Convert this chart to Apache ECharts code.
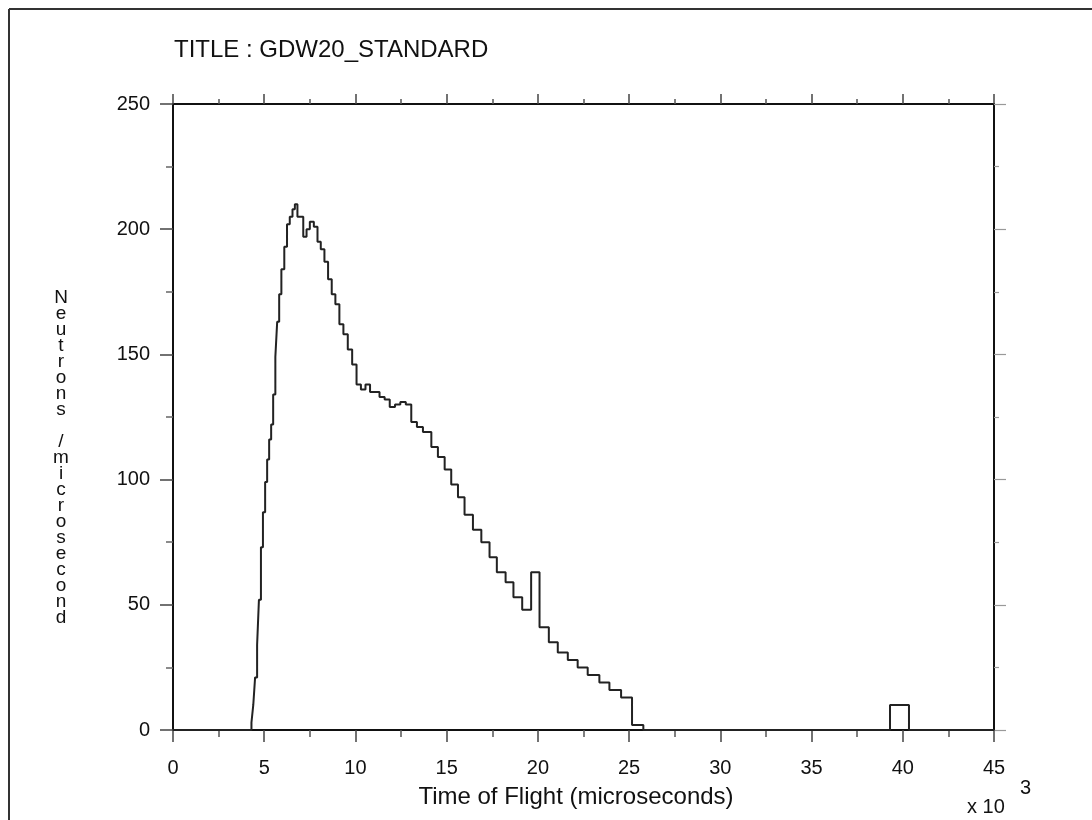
<!DOCTYPE html>
<html>
<head>
<meta charset="utf-8">
<title>GDW20_STANDARD</title>
<script src="https://cdn.jsdelivr.net/npm/echarts@6.0.0/dist/echarts.min.js"></script>
<style>
  html, body { margin: 0; padding: 0; background: #fff; }
  #chart { width: 1092px; height: 820px; }
</style>
</head>
<body>
<div id="chart"></div>
<script>
// left edge of each bin (x 10^3 microseconds) and its height (neutrons / microsecond)
const binStart = [0, 4.30, 4.40, 4.50, 4.61, 4.71, 4.82, 4.93, 5.05, 5.16, 5.27, 5.38, 5.49, 5.61, 5.71,
  5.82, 5.94, 6.10, 6.25, 6.40, 6.55, 6.68, 6.82, 6.98, 7.14, 7.32, 7.50, 7.72, 7.92, 8.10, 8.30, 8.50,
  8.70, 8.90, 9.12, 9.34, 9.58, 9.82, 10.06, 10.30, 10.55, 10.80, 11.06, 11.32, 11.60, 11.88, 12.17,
  12.46, 12.76, 13.06, 13.37, 13.70, 14.16, 14.52, 14.89, 15.25, 15.62, 15.98, 16.44, 16.90, 17.35,
  17.75, 18.23, 18.66, 19.14, 19.63, 20.09, 20.60, 21.09, 21.64, 22.18, 22.73, 23.37, 23.92, 24.56,
  25.16, 25.78, 39.30, 40.34]
const neutrons = [0, 3, 10, 21, 34, 52, 73, 87, 99, 108, 116, 122, 134, 149, 163,
  174, 184, 193, 202, 205, 208, 210, 205, 205, 197, 200, 203, 201, 195, 192, 187, 180,
  174, 170, 162, 158, 152, 146, 138, 136, 138, 135, 135, 133, 132, 129, 130,
  131, 130, 123, 121, 119, 113, 109, 104, 98, 93, 86, 80, 75, 69,
  63, 59, 53, 48, 63, 41, 35, 31, 28, 25, 22, 19, 16, 13,
  2, 0, 10, 0]
const xEnd = 45

const xTicks = [0, 5, 10, 15, 20, 25, 30, 35, 40, 45]
const yTicks = [0, 50, 100, 150, 200, 250]

const titleText = 'TITLE : GDW20_STANDARD'
const xName = 'Time of Flight (microseconds)'
const yName = 'Neutrons /microsecond'

const FONT = '"Liberation Sans", Arial, Helvetica, sans-serif'

var points = binStart.map(function (x, i) { return [x, neutrons[i]] })
points.push([xEnd, 0])

var chart = echarts.init(document.getElementById('chart'))

function frameAxis(extra) {
  return Object.assign({
    type: 'value',
    splitLine: { show: false },
    minorSplitLine: { show: false },
    axisLine: { show: true, onZero: false, lineStyle: { color: '#111', width: 2 } }
  }, extra)
}

var option = {
  backgroundColor: '#fff',
  animation: false,
  grid: { left: 173, top: 104, right: 98, bottom: 90, containLabel: false },
  xAxis: [
    frameAxis({
      position: 'bottom',
      min: xTicks[0], max: xTicks[xTicks.length - 1], interval: 5,
      axisTick: { show: true, length: 12, lineStyle: { color: '#444', width: 1.5 } },
      minorTick: { show: true, splitNumber: 2, length: 7, lineStyle: { color: '#555', width: 1.5 } },
      axisLabel: { fontSize: 20, color: '#111', fontFamily: FONT, margin: 28 }
    }),
    frameAxis({
      position: 'top',
      min: xTicks[0], max: xTicks[xTicks.length - 1], interval: 5,
      axisTick: { show: true, length: 10, lineStyle: { color: '#444', width: 1.5 } },
      minorTick: { show: true, splitNumber: 2, length: 5, lineStyle: { color: '#555', width: 1.5 } },
      axisLabel: { show: false }
    })
  ],
  yAxis: [
    frameAxis({
      position: 'left',
      min: yTicks[0], max: yTicks[yTicks.length - 1], interval: 50,
      axisTick: { show: true, length: 13, lineStyle: { color: '#444', width: 1.5 } },
      minorTick: { show: true, splitNumber: 2, length: 7, lineStyle: { color: '#666', width: 1.5 } },
      axisLabel: { fontSize: 20, color: '#111', fontFamily: FONT, margin: 23 }
    }),
    frameAxis({
      position: 'right',
      min: yTicks[0], max: yTicks[yTicks.length - 1], interval: 50,
      axisTick: { show: true, length: 12, lineStyle: { color: '#999', width: 1.2 } },
      minorTick: { show: true, splitNumber: 2, length: 5, lineStyle: { color: '#999', width: 1.2 } },
      axisLabel: { show: false }
    })
  ],
  series: [{
    type: 'line',
    step: 'end',
    xAxisIndex: 0,
    yAxisIndex: 0,
    showSymbol: false,
    symbol: 'none',
    clip: false,
    lineStyle: { color: '#222', width: 2 },
    data: points
  }],
  graphic: [
    // scanned page frame
    { type: 'line', shape: { x1: 9, y1: 9, x2: 1092, y2: 9 }, style: { stroke: '#333', lineWidth: 2 } },
    { type: 'line', shape: { x1: 9, y1: 9, x2: 9, y2: 820 }, style: { stroke: '#333', lineWidth: 2 } },
    { type: 'text', x: 174, y: 50,
      style: { text: titleText, font: '24px ' + FONT, fill: '#111', verticalAlign: 'middle' } },
    { type: 'text', x: 576, y: 797,
      style: { text: xName, font: '24px ' + FONT, fill: '#111', align: 'center', verticalAlign: 'middle' } },
    { type: 'text', x: 967, y: 807,
      style: { text: 'x 10', font: '20px ' + FONT, fill: '#111', verticalAlign: 'middle' } },
    { type: 'text', x: 1020, y: 788,
      style: { text: '3', font: '20px ' + FONT, fill: '#111', verticalAlign: 'middle' } },
    { type: 'text', x: 61, y: 290,
      style: { text: yName.split('').join('\n'), font: '19px ' + FONT, lineHeight: 16,
        fill: '#111', align: 'center', verticalAlign: 'top' } }
  ]
}

chart.setOption(option)
</script>
</body>
</html>
